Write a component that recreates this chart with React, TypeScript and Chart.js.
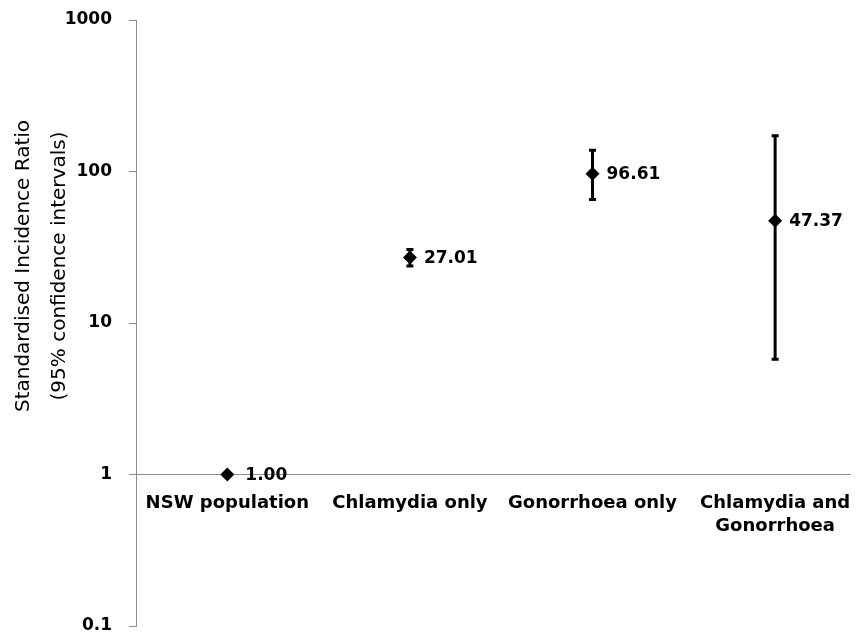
import React, { useEffect, useRef } from "react";
import { Chart, registerables } from "chart.js";

Chart.register(...registerables);

const categories: (string | string[])[] = [
  "NSW population",
  "Chlamydia only",
  "Gonorrhoea only",
  ["Chlamydia and", "Gonorrhoea"],
];
const sirValues = [1.0, 27.01, 96.61, 47.37];
const ciLower: (number | null)[] = [null, 23.8, 65.3, 5.77];
const ciUpper: (number | null)[] = [null, 30.6, 138.2, 172];
const yTicks = [0.1, 1, 10, 100, 1000];
const yTitleLines = ["Standardised Incidence Ratio", "(95% confidence intervals)"];

const FONT = "'DejaVu Sans', sans-serif";

const errorBarPlugin = {
  id: "errorBars",
  beforeDatasetsDraw(chart: any) {
    const { ctx, scales } = chart;
    const xs = scales.x;
    const ys = scales.y;
    ctx.save();
    ctx.strokeStyle = "#000";
    ctx.lineWidth = 3;
    ctx.lineCap = "butt";
    sirValues.forEach((_, i) => {
      const lo = ciLower[i];
      const hi = ciUpper[i];
      if (lo == null || hi == null) return;
      const x = xs.getPixelForValue(i);
      const y1 = ys.getPixelForValue(lo);
      const y2 = ys.getPixelForValue(hi);
      ctx.beginPath();
      ctx.moveTo(x, y1);
      ctx.lineTo(x, y2);
      ctx.stroke();
      ctx.beginPath();
      ctx.moveTo(x - 3.5, y1);
      ctx.lineTo(x + 3.5, y1);
      ctx.moveTo(x - 3.5, y2);
      ctx.lineTo(x + 3.5, y2);
      ctx.stroke();
    });
    ctx.restore();
  },
};

const valueLabelPlugin = {
  id: "valueLabels",
  afterDatasetsDraw(chart: any) {
    const { ctx, scales } = chart;
    ctx.save();
    ctx.fillStyle = "#000";
    ctx.font = `bold 17px ${FONT}`;
    ctx.textAlign = "left";
    ctx.textBaseline = "middle";
    sirValues.forEach((v, i) => {
      const x = scales.x.getPixelForValue(i);
      const y = scales.y.getPixelForValue(v);
      ctx.fillText(v.toFixed(2), x + (i === 0 ? 18 : 14), y + 1);
    });
    ctx.restore();
  },
};

const yTitlePlugin = {
  id: "yTitle",
  afterDraw(chart: any) {
    const { ctx } = chart;
    ctx.save();
    ctx.fillStyle = "#000";
    ctx.font = `20px ${FONT}`;
    ctx.textAlign = "center";
    ctx.textBaseline = "middle";
    const cy = 266;
    const xsPos = [24, 60];
    yTitleLines.forEach((line, i) => {
      ctx.save();
      ctx.translate(xsPos[i], cy);
      ctx.rotate(-Math.PI / 2);
      ctx.fillText(line, 0, 0);
      ctx.restore();
    });
    ctx.restore();
  },
};

export default function App() {
  const ref = useRef<HTMLCanvasElement | null>(null);

  useEffect(() => {
    document.body.style.margin = "0";
    if (!ref.current) return;
    const chart = new Chart(ref.current, {
      type: "scatter",
      data: {
        datasets: [
          {
            data: sirValues.map((v, i) => ({ x: i, y: v })),
            pointStyle: "rectRot",
            pointRadius: 7,
            pointHoverRadius: 7,
            backgroundColor: "#000",
            borderColor: "#000",
            borderWidth: 0,
          },
        ],
      },
      options: {
        animation: false,
        responsive: true,
        maintainAspectRatio: false,
        layout: { padding: { left: 0, right: 0, top: 20, bottom: 6 } },
        plugins: {
          legend: { display: false },
          tooltip: { enabled: false },
        },
        scales: {
          x: {
            type: "linear",
            position: { y: 1 } as any,
            min: -0.5,
            max: 3.41,
            grid: { display: false, drawTicks: false },
            border: { display: true, color: "#8c8c8c", width: 1 },
            afterBuildTicks(scale: any) {
              scale.ticks = categories.map((_, i) => ({ value: i }));
            },
            afterFit(scale: any) {
              scale.height = 0;
              scale.paddingLeft = 0;
              scale.paddingRight = 0;
              scale.paddingTop = 0;
              scale.paddingBottom = 0;
            },
            ticks: {
              padding: 17,
              color: "#000",
              font: { family: FONT, size: 18, weight: "bold", lineHeight: 1.3 },
              maxRotation: 0,
              autoSkip: false,
              callback: (value: any) => categories[Number(value)] as any,
            },
          },
          y: {
            type: "logarithmic",
            min: 0.1,
            max: 1000,
            afterFit(scale: any) {
              scale.width = 136;
              scale.paddingTop = 0;
              scale.paddingBottom = 0;
            },
            afterBuildTicks(scale: any) {
              scale.ticks = yTicks.map((v) => ({ value: v }));
            },
            grid: {
              display: true,
              drawOnChartArea: false,
              drawTicks: true,
              tickLength: 7,
              color: "#8c8c8c",
            },
            border: { display: true, color: "#8c8c8c", width: 1 },
            ticks: {
              padding: 17,
              color: "#000",
              font: { family: FONT, size: 17, weight: "bold" },
              callback: (value: any) => String(value),
            },
          },
        },
      },
      plugins: [errorBarPlugin, valueLabelPlugin, yTitlePlugin],
    });
    return () => chart.destroy();
  }, []);

  return (
    <div style={{ width: 857, height: 633, position: "relative" }}>
      <canvas ref={ref} />
    </div>
  );
}
